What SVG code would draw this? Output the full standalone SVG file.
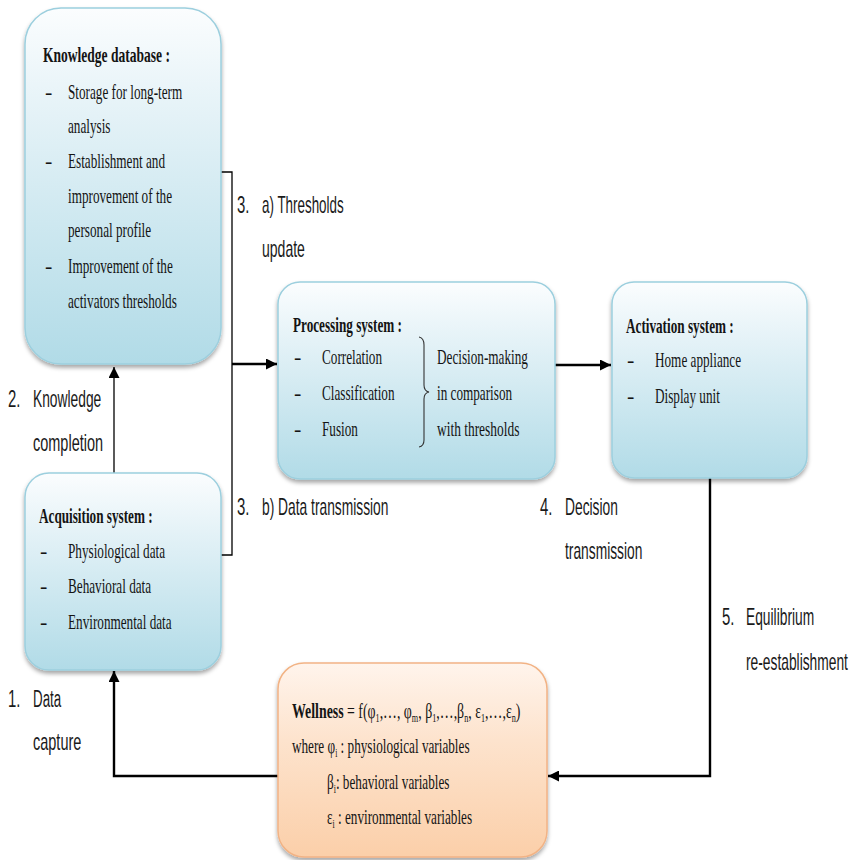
<svg xmlns="http://www.w3.org/2000/svg" width="854" height="860" viewBox="0 0 854 860">
  <defs>
    <linearGradient id="blueFill" x1="0" y1="0" x2="0" y2="1">
      <stop offset="0" stop-color="#fbfdfe"/>
      <stop offset="0.3" stop-color="#e4f2f7"/>
      <stop offset="1" stop-color="#b1dbe7"/>
    </linearGradient>
    <linearGradient id="peachFill" x1="0" y1="0" x2="0" y2="1">
      <stop offset="0" stop-color="#fff4ec"/>
      <stop offset="0.4" stop-color="#fde3cd"/>
      <stop offset="1" stop-color="#fbcfa9"/>
    </linearGradient>
    <filter id="shadow" x="-10%" y="-10%" width="120%" height="125%">
      <feDropShadow dx="0" dy="3" stdDeviation="2" flood-color="#000" flood-opacity="0.35"/>
    </filter>
    <marker id="arrow" markerUnits="userSpaceOnUse" markerWidth="12" markerHeight="11" refX="11" refY="5.5" orient="auto">
      <path d="M0,0 L11,5.5 L0,11 z" fill="#000"/>
    </marker>
    <style>
      .box { fill: url(#blueFill); stroke: #9ccfde; stroke-width: 1.5; filter: url(#shadow); }
      .wbox { fill: url(#peachFill); stroke: #f2b385; stroke-width: 1.5; filter: url(#shadow); }
      .t { font-family: "Liberation Serif", "Times New Roman", serif; font-size: 22px; fill: #141414; }
      .b { font-weight: bold; }
      .lbl { font-family: "Liberation Sans", Arial, sans-serif; font-size: 23px; fill: #1a1a1a; }
      .sub { font-size: 13px; }
      .wire { fill: none; stroke: #000; stroke-width: 1.3; }
      .thick { stroke-width: 2.4; }
    </style>
  </defs>

  <rect width="854" height="860" fill="#ffffff"/>

  <!-- connectors -->
  <g id="connectors">
    <path class="wire" d="M220,172 H232 V555 H220"/>
    <path class="wire thick" d="M232,364 H277" marker-end="url(#arrow)"/>
    <path class="wire thick" d="M555,365 H611" marker-end="url(#arrow)"/>
    <path class="wire" d="M114,473 V367" marker-end="url(#arrow)"/>
    <path class="wire thick" d="M710,478 V776 H548" marker-end="url(#arrow)"/>
    <path class="wire thick" d="M278,776 H114 V671" marker-end="url(#arrow)"/>
  </g>

  <!-- knowledge database (text is condensed horizontally with scale(0.6,1)) -->
  <g id="knowledge">
    <rect class="box" x="25" y="8" width="196" height="356" rx="36"/>
    <text class="t b" transform="translate(43,62) scale(0.615,1)">Knowledge database :</text>
    <text class="t" x="45" y="99">-</text>
    <text class="t" transform="translate(68,99) scale(0.6,1)">Storage for long-term</text>
    <text class="t" transform="translate(68,133) scale(0.6,1)">analysis</text>
    <text class="t" x="45" y="168">-</text>
    <text class="t" transform="translate(68,168) scale(0.6,1)">Establishment and</text>
    <text class="t" transform="translate(68,203) scale(0.6,1)">improvement of the</text>
    <text class="t" transform="translate(68,237) scale(0.6,1)">personal profile</text>
    <text class="t" x="45" y="273">-</text>
    <text class="t" transform="translate(68,273) scale(0.6,1)">Improvement of the</text>
    <text class="t" transform="translate(68,308) scale(0.6,1)">activators thresholds</text>
  </g>

  <!-- processing system -->
  <g id="processing">
    <rect class="box" x="278" y="282" width="277" height="197" rx="22"/>
    <text class="t b" transform="translate(293,332) scale(0.6,1)">Processing system :</text>
    <text class="t" x="294" y="364">-</text>
    <text class="t" transform="translate(322,364) scale(0.6,1)">Correlation</text>
    <text class="t" x="294" y="400">-</text>
    <text class="t" transform="translate(322,400) scale(0.6,1)">Classification</text>
    <text class="t" x="294" y="436">-</text>
    <text class="t" transform="translate(322,436) scale(0.6,1)">Fusion</text>
    <path d="M419,337 Q424,338 424,345 V385 Q424,391 429,392 Q424,393 424,399 V440 Q424,446 419,447" fill="none" stroke="#333" stroke-width="1.1"/>
    <text class="t" transform="translate(437,364) scale(0.6,1)">Decision-making</text>
    <text class="t" transform="translate(437,400) scale(0.6,1)">in comparison</text>
    <text class="t" transform="translate(437,436) scale(0.61,1)">with thresholds</text>
  </g>

  <!-- activation system -->
  <g id="activation">
    <rect class="box" x="612" y="282" width="195" height="196" rx="22"/>
    <text class="t b" transform="translate(626,333) scale(0.6,1)">Activation system :</text>
    <text class="t" x="627" y="367">-</text>
    <text class="t" transform="translate(655,367) scale(0.6,1)">Home appliance</text>
    <text class="t" x="627" y="403">-</text>
    <text class="t" transform="translate(655,403) scale(0.6,1)">Display unit</text>
  </g>

  <!-- acquisition system -->
  <g id="acquisition">
    <rect class="box" x="25" y="473" width="196" height="197" rx="24"/>
    <text class="t b" transform="translate(39,523) scale(0.6,1)">Acquisition system :</text>
    <text class="t" x="40" y="558">-</text>
    <text class="t" transform="translate(68,558) scale(0.6,1)">Physiological data</text>
    <text class="t" x="40" y="593">-</text>
    <text class="t" transform="translate(68,593) scale(0.6,1)">Behavioral data</text>
    <text class="t" x="40" y="629">-</text>
    <text class="t" transform="translate(68,629) scale(0.6,1)">Environmental data</text>
  </g>

  <!-- wellness function -->
  <g id="wellness">
    <rect class="wbox" x="278" y="663" width="269" height="194" rx="26"/>
    <text class="t" transform="translate(292,718) scale(0.63,1)"><tspan class="b">Wellness</tspan> = f(φ<tspan class="sub" dy="4">1</tspan><tspan dy="-4">,…, φ</tspan><tspan class="sub" dy="4">m</tspan><tspan dy="-4">, β</tspan><tspan class="sub" dy="4">1</tspan><tspan dy="-4">,…,β</tspan><tspan class="sub" dy="4">n</tspan><tspan dy="-4">, ε</tspan><tspan class="sub" dy="4">1</tspan><tspan dy="-4">,…,ε</tspan><tspan class="sub" dy="4">n</tspan><tspan dy="-4">)</tspan></text>
    <text class="t" transform="translate(292,753) scale(0.6,1)">where φ<tspan class="sub" dy="4">i</tspan><tspan dy="-4"> : physiological variables</tspan></text>
    <text class="t" transform="translate(327,789) scale(0.6,1)">β<tspan class="sub" dy="4">i</tspan><tspan dy="-4">: behavioral variables</tspan></text>
    <text class="t" transform="translate(327,824) scale(0.6,1)">ε<tspan class="sub" dy="4">i</tspan><tspan dy="-4"> : environmental variables</tspan></text>
  </g>

  <!-- step labels -->
  <g id="labels">
    <text class="lbl" transform="translate(237,213) scale(0.65,1)">3.</text>
    <text class="lbl" transform="translate(262,213) scale(0.583,1)">a) Thresholds</text>
    <text class="lbl" transform="translate(262,257) scale(0.61,1)">update</text>

    <text class="lbl" transform="translate(8,407) scale(0.65,1)">2.</text>
    <text class="lbl" transform="translate(33,407) scale(0.6,1)">Knowledge</text>
    <text class="lbl" transform="translate(33,451) scale(0.63,1)">completion</text>

    <text class="lbl" transform="translate(237,515) scale(0.65,1)">3.</text>
    <text class="lbl" transform="translate(262,515) scale(0.6,1)">b) Data transmission</text>

    <text class="lbl" transform="translate(540,515) scale(0.65,1)">4.</text>
    <text class="lbl" transform="translate(565,515) scale(0.6,1)">Decision</text>
    <text class="lbl" transform="translate(565,559) scale(0.6,1)">transmission</text>

    <text class="lbl" transform="translate(722,625) scale(0.65,1)">5.</text>
    <text class="lbl" transform="translate(746,625) scale(0.6,1)">Equilibrium</text>
    <text class="lbl" transform="translate(746,670) scale(0.6,1)">re-establishment</text>

    <text class="lbl" transform="translate(8,707) scale(0.65,1)">1.</text>
    <text class="lbl" transform="translate(33,707) scale(0.58,1)">Data</text>
    <text class="lbl" transform="translate(33,750) scale(0.63,1)">capture</text>
  </g>
</svg>
